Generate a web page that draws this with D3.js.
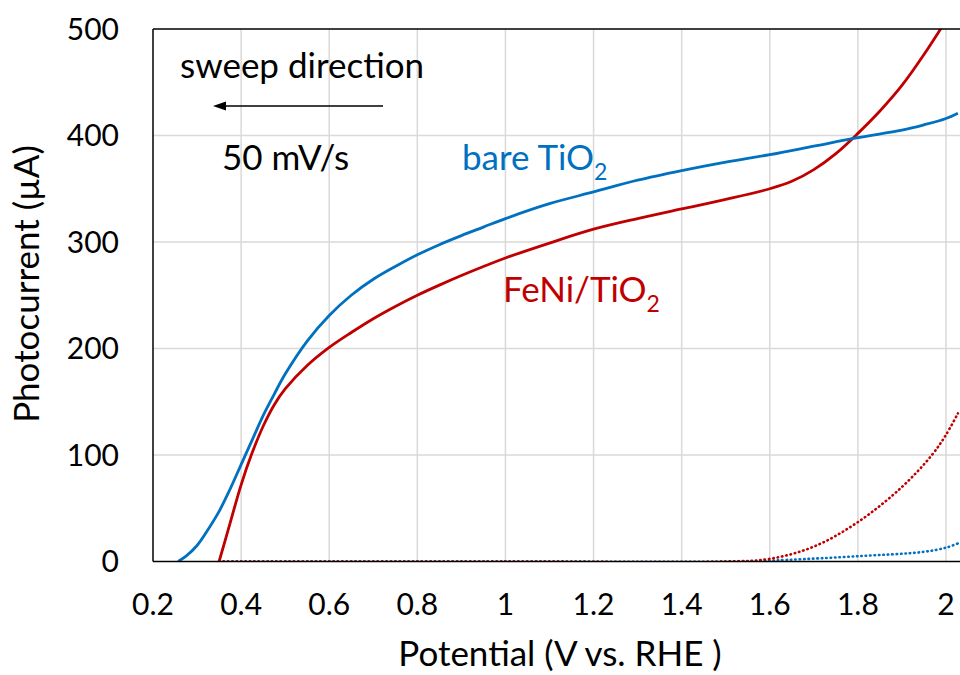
<!DOCTYPE html>
<html><head><meta charset="utf-8">
<script src="https://cdn.jsdelivr.net/npm/d3@7"></script>
<style>
html,body{margin:0;padding:0;background:#fff;}
svg text{font-family:Lato,"Open Sans",sans-serif;}
</style></head>
<body>
<svg id="chart" width="960" height="675"></svg>
<script>
// ---- data ----
const xTicks = [0.2,0.4,0.6,0.8,1.0,1.2,1.4,1.6,1.8,2.0];
const yTicks = [0,100,200,300,400,500];

const bareV = [0.257,0.275,0.30,0.325,0.35,0.375,0.40,0.425,0.45,0.475,0.50,0.55,0.60,0.65,0.70,0.75,0.80,0.85,0.90,0.95,1.0,1.1,1.2,1.3,1.4,1.5,1.6,1.7,1.8,1.9,1.95,2.0,2.027];
const bareI = [0,5,15,30,47,68,91,114,137,157,176,207,231,250,265,277,288,297.5,306,314,322,336,347,358,367,375,382,390,398,405,410,416,421];

const feniV = [0.35,0.375,0.40,0.425,0.45,0.475,0.50,0.55,0.60,0.65,0.70,0.75,0.80,0.85,0.90,0.95,1.0,1.1,1.2,1.3,1.4,1.5,1.6,1.65,1.7,1.75,1.8,1.85,1.9,1.95,2.0];
const feniI = [0,36,72,102,127,147,162,184,201,215,228,239.5,250,259.5,268.5,277,285,299,312,322,331,340,350,357,368,383,402,423,447,476,508];

const darkFeniV = [0.35,1.0,1.5,1.6,1.7,1.8,1.9,1.968,2.0,2.027];
const darkFeniI = [0,0,0,2.5,14,37,70,100,119,139];

const darkBareV = [0.35,1.0,1.55,1.64,1.8,1.948,2.0,2.027];
const darkBareI = [0,0,0,1.5,5,9,13,17];

// ---- layout ----
const svg = d3.select("#chart");
const x = d3.scaleLinear().domain([0.2,2.0]).range([153,946]);
const y = d3.scaleLinear().domain([0,500]).range([561.5,29]);
const plotRight = 960;

const blue = "#0070C0", red = "#C00000";

svg.append("defs").append("clipPath").attr("id","clip")
  .append("rect").attr("x",x(0.2)).attr("y",y(500)).attr("width",plotRight-x(0.2)).attr("height",y(0)-y(500));

// gridlines
const g = svg.append("g");
g.selectAll(".vg").data(xTicks.slice(1)).join("line")
  .attr("x1",d=>x(d)).attr("x2",d=>x(d)).attr("y1",y(0)).attr("y2",y(500))
  .attr("stroke","#d9d9d9").attr("stroke-width",1.5);
g.selectAll(".hg").data(yTicks.slice(1,-1)).join("line")
  .attr("x1",x(0.2)).attr("x2",plotRight).attr("y1",d=>y(d)).attr("y2",d=>y(d))
  .attr("stroke","#d9d9d9").attr("stroke-width",1.5);

// series
const line = d3.line().x(d=>x(d[0])).y(d=>y(d[1])).curve(d3.curveCatmullRom.alpha(0.5));
const plot = svg.append("g").attr("clip-path","url(#clip)");
const zip = (a,b)=>a.map((v,i)=>[v,b[i]]);

plot.append("path").attr("d",line(zip(darkBareV,darkBareI))).attr("fill","none")
  .attr("stroke",blue).attr("stroke-width",2.6).attr("stroke-dasharray","0.5,3.9").attr("stroke-linecap","round");
plot.append("path").attr("d",line(zip(darkFeniV,darkFeniI))).attr("fill","none")
  .attr("stroke",red).attr("stroke-width",2.6).attr("stroke-dasharray","0.5,3.9").attr("stroke-linecap","round");

// axes lines
svg.append("line").attr("x1",x(0.2)).attr("x2",plotRight).attr("y1",y(500)).attr("y2",y(500)).attr("stroke","#000").attr("stroke-width",1.5);
svg.append("line").attr("x1",x(0.2)).attr("x2",x(0.2)).attr("y1",y(0)).attr("y2",y(500)).attr("stroke","#000").attr("stroke-width",1.5);
svg.append("line").attr("x1",x(0.2)).attr("x2",plotRight).attr("y1",y(0)).attr("y2",y(0)).attr("stroke","#000").attr("stroke-width",1.5);

plot.append("path").attr("d",line(zip(feniV,feniI))).attr("fill","none")
  .attr("stroke",red).attr("stroke-width",2.8);
plot.append("path").attr("d",line(zip(bareV,bareI))).attr("fill","none")
  .attr("stroke",blue).attr("stroke-width",2.8);

// tick labels
svg.selectAll(".yt").data(yTicks).join("text")
  .attr("x",119).attr("y",d=>y(d)).attr("dy","0.36em").attr("text-anchor","end")
  .attr("font-size",30).attr("fill","#000").text(d=>d);
svg.selectAll(".xt").data(xTicks).join("text")
  .attr("x",d=>x(d)).attr("y",615).attr("text-anchor","middle")
  .attr("font-size",30).attr("fill","#000").text(d=>d3.format("~g")(d));

// axis titles
svg.append("text").attr("x",560).attr("y",666).attr("text-anchor","middle")
  .attr("font-size",35).text("Potential (V vs. RHE )");
svg.append("text").attr("transform","translate(39,284) rotate(-90)").attr("text-anchor","middle")
  .attr("font-size",35).text("Photocurrent (µA)");

// annotations
svg.append("text").attr("x",180).attr("y",78).attr("font-size",35).text("sweep direction");
svg.append("line").attr("x1",383).attr("x2",222).attr("y1",106).attr("y2",106)
  .attr("stroke","#000").attr("stroke-width",1.6);
svg.append("path").attr("d","M213,106 L226,101.5 L226,110.5 Z").attr("fill","#000");
svg.append("text").attr("x",222).attr("y",170).attr("font-size",35).text("50 mV/s");

const t1 = svg.append("text").attr("x",462).attr("y",170).attr("font-size",35).attr("fill",blue);
t1.append("tspan").text("bare TiO");
t1.append("tspan").attr("font-size",23).attr("dy",10).text("2");
const t2 = svg.append("text").attr("x",503).attr("y",302).attr("font-size",35).attr("fill",red);
t2.append("tspan").text("FeNi/TiO");
t2.append("tspan").attr("font-size",23).attr("dy",10).text("2");
</script>
</body></html>
